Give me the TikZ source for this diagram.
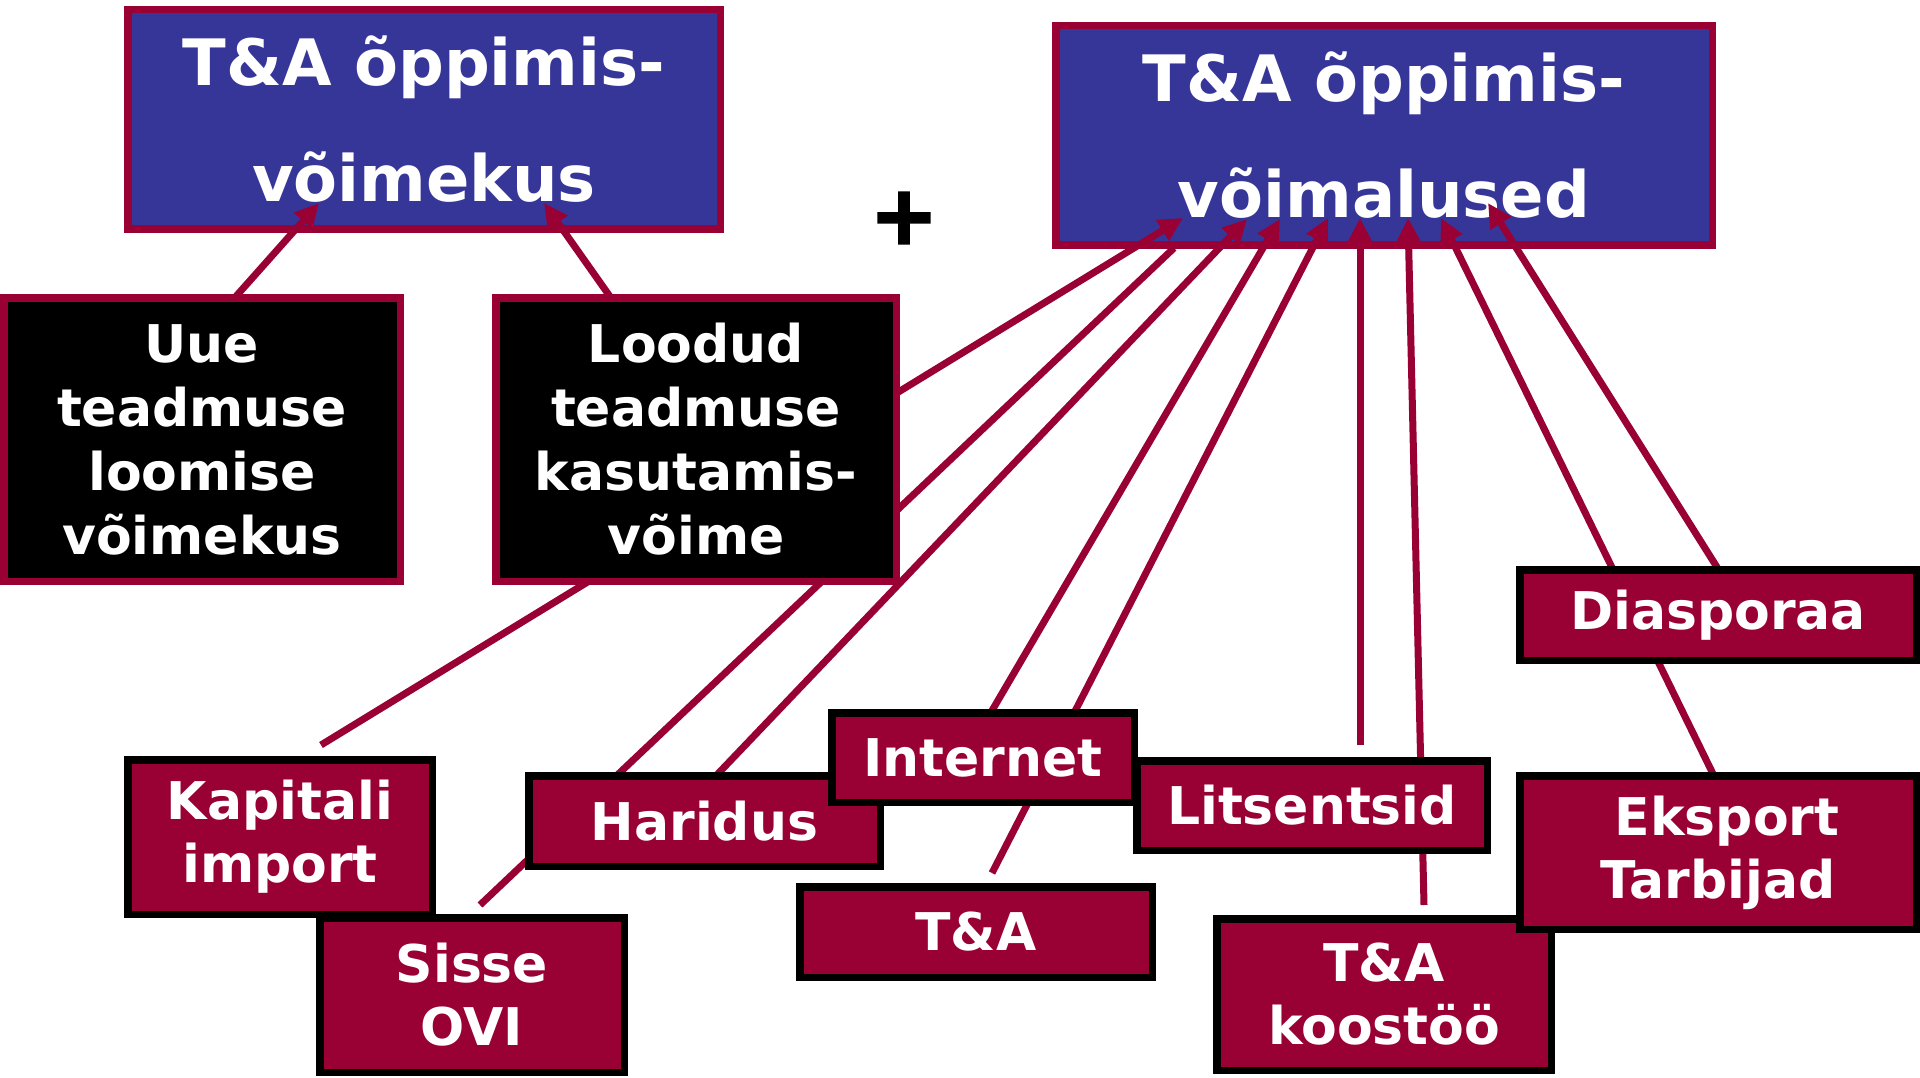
\documentclass[tikz,border=0pt]{standalone}
\usepackage{fontspec}
\setmainfont{DejaVu Sans}
\newfontfamily\plusfont[FakeBold=2.5]{DejaVu Sans Bold}
\usetikzlibrary{arrows.meta}
\definecolor{crim}{HTML}{990033}
\definecolor{bluefill}{HTML}{363699}
\pgfdeclarelayer{bg}
\pgfdeclarelayer{mid}
\pgfsetlayers{bg,mid,main}
\tikzset{
  box/.style={line width=7.5pt, inner sep=0pt, text=white, align=center},
  bluebox/.style={box, draw=crim, fill=bluefill, font=\fontsize{64}{116}\selectfont\bfseries},
  blackbox/.style={box, draw=crim, fill=black, font=\fontsize{52}{64}\selectfont\bfseries},
  redbox/.style={box, draw=black, fill=crim, font=\fontsize{52}{63}\selectfont\bfseries},
  conn/.style={draw=crim, line width=7pt},
  arr/.style={conn, -{Triangle[length=24pt,width=23pt]}}
}
\begin{document}
\begin{tikzpicture}[x=1pt,y=-1pt]
\useasboundingbox (0,0) rectangle (1920,1078);
\begin{pgfonlayer}{bg}
\fill[white] (0,0) rectangle (1920,1078);
\node[bluebox, minimum width=592.5pt, minimum height=219.5pt] (bl) at (424,119.5) {T\&A õppimis-\\võimekus};
\node[bluebox, minimum width=656.5pt, minimum height=219.5pt] (br) at (1384,135.5) {T\&A õppimis-\\võimalused};
\end{pgfonlayer}
\node[font=\fontsize{82}{82}\selectfont\plusfont, inner sep=0pt] (plus) at (904,218) {+};
% black boxes
\node[blackbox, minimum width=396.5pt, minimum height=283.5pt] (k1) at (202,439.5) {Uue\\teadmuse\\loomise\\võimekus};
\node[blackbox, minimum width=400.5pt, minimum height=283.5pt] (k2) at (696,439.5) {Loodud\\teadmuse\\kasutamis-\\võime};
% red boxes
\node[redbox, minimum width=304.5pt, minimum height=154.5pt] (kap) at (280,837) {Kapitali\\import};
\node[redbox, minimum width=304.5pt, minimum height=154.5pt] (ovi) at (472,995) {Sisse\\OVI};
\node[redbox, minimum width=351.5pt, minimum height=90.5pt] (har) at (704.5,821) {Haridus};
\node[redbox, minimum width=302.5pt, minimum height=89.5pt] (int) at (983,757.5) {Internet};
\node[redbox, minimum width=352.5pt, minimum height=90.5pt] (ta) at (976,932) {T\&A};
\node[redbox, minimum width=350.5pt, minimum height=89.5pt] (lit) at (1312,805.5) {Litsentsid};
\node[redbox, minimum width=396.5pt, minimum height=90.5pt] (dia) at (1718,615) {Diasporaa};
\node[redbox, minimum width=334.5pt, minimum height=151.5pt] (koo) at (1384,994.5) {T\&A\\koostöö};
\node[redbox, minimum width=396.5pt, minimum height=153.5pt] (eks) at (1718,852.5) {\hspace*{18pt}Eksport\\Tarbijad};
% connector end points
\coordinate (tA) at (1183,218);
\coordinate (bEnd) at (1174,248);
\coordinate (tC) at (1247,219);
\coordinate (tD) at (1280,219);
\coordinate (tE) at (1328,218);
\coordinate (tF) at (1360,218);
\coordinate (tG) at (1408,218);
\coordinate (tH) at (1441,218);
\coordinate (tI) at (1488,203);
\coordinate (tJ) at (319,203);
\coordinate (tK) at (544,203);
\coordinate (sA) at (321,745);
\coordinate (sB) at (480,905);
\coordinate (sC) at (712,780);
\coordinate (sD) at (990,714);
\coordinate (sE) at (992,873);
\coordinate (sF) at (1360,745);
\coordinate (sG) at (1424,905);
\coordinate (sH) at (1715,778);
\coordinate (sI) at (1720,572);
\coordinate (sJ) at (234.5,298);
\coordinate (sK) at (611,298);
\begin{pgfonlayer}{mid}
\draw[arr] (sA) -- (tA);
\draw[conn] (sB) -- (bEnd);
\draw[arr] (sC) -- (tC);
\draw[arr] (sD) -- (tD);
\draw[arr] (sE) -- (tE);
\draw[arr] (sF) -- (tF);
\draw[arr] (sG) -- (tG);
\draw[arr] (sH) -- (tH);
\draw[arr] (sI) -- (tI);
\draw[arr] (sJ) -- (tJ);
\draw[arr] (sK) -- (tK);
\end{pgfonlayer}
\end{tikzpicture}
\end{document}
